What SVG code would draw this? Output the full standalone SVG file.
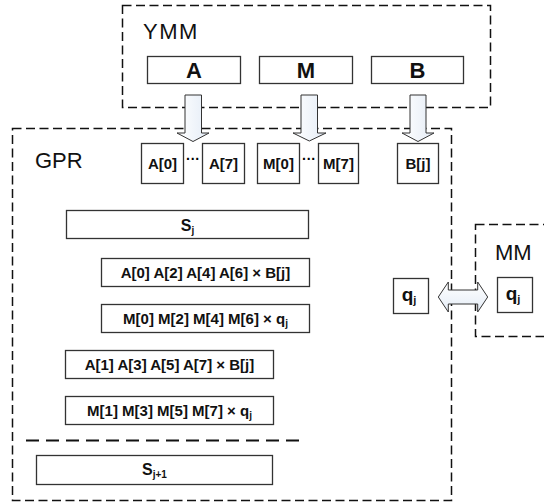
<svg xmlns="http://www.w3.org/2000/svg" width="544" height="503" viewBox="0 0 544 503">
<defs>
<linearGradient id="ag" x1="0" y1="0" x2="1" y2="0">
<stop offset="0" stop-color="#ffffff"/>
<stop offset="1" stop-color="#e4ecf6"/>
</linearGradient>
<linearGradient id="agv" x1="0" y1="0" x2="0" y2="1">
<stop offset="0" stop-color="#ffffff"/>
<stop offset="1" stop-color="#e4ecf6"/>
</linearGradient>
</defs>
<style>
.cont{fill:none;stroke:#111;stroke-width:1.5;stroke-dasharray:9 4.5}
.box{fill:#fff;stroke:#333;stroke-width:1.3}
.t{font-family:"Liberation Sans",Arial,sans-serif;font-weight:bold;fill:#111;text-anchor:middle}
.big{font-family:"Liberation Sans",Arial,sans-serif;font-size:22px;fill:#111}
.lbl{font-size:15px}
.sub{font-size:10px}
.dots{font-family:"Liberation Sans",Arial,sans-serif;font-size:14px;font-weight:bold;fill:#000;text-anchor:middle}
.arr{fill:url(#ag);stroke:#333;stroke-width:1}
.arrv{fill:url(#agv);stroke:#333;stroke-width:1}
</style>
<rect width="544" height="503" fill="#fff"/>

<g id="ymm">
<rect class="cont" x="122.5" y="5.5" width="368" height="102"/>
<text class="big" x="143" y="39" letter-spacing="1.5">YMM</text>
</g>
<g id="gpr">
<rect class="cont" x="12.5" y="128.5" width="439" height="372"/>
<text class="big" x="35" y="168">GPR</text>
<line x1="26" y1="440.5" x2="304" y2="440.5" stroke="#111" stroke-width="2" stroke-dasharray="13 7"/>
</g>
<g id="mm">
<rect class="cont" x="475.5" y="224.5" width="100" height="112"/>
<text class="big" x="495" y="260">MM</text>
</g>

<g id="ymm-a"><rect class="box" x="147.5" y="56.5" width="93" height="27"/><text class="t" x="194" y="77.5" font-size="22">A</text></g>
<g id="ymm-m"><rect class="box" x="259.5" y="56.5" width="93" height="27"/><text class="t" x="306" y="77.5" font-size="22">M</text></g>
<g id="ymm-b"><rect class="box" x="371.5" y="56.5" width="92" height="27"/><text class="t" x="417.5" y="77.5" font-size="22">B</text></g>

<g id="a0"><rect class="box" x="141.5" y="143.5" width="42" height="40"/><text class="t lbl" x="162.5" y="169">A[0]</text></g>
<text class="dots" x="193" y="164">···</text>
<g id="a7"><rect class="box" x="202.5" y="143.5" width="42" height="40"/><text class="t lbl" x="223.5" y="169">A[7]</text></g>
<g id="m0"><rect class="box" x="257.5" y="143.5" width="42" height="40"/><text class="t lbl" x="278.5" y="169">M[0]</text></g>
<text class="dots" x="309" y="164">···</text>
<g id="m7"><rect class="box" x="318.5" y="143.5" width="40" height="40"/><text class="t lbl" x="338.5" y="169">M[7]</text></g>
<g id="bj"><rect class="box" x="397.5" y="143.5" width="41" height="40"/><text class="t lbl" x="418" y="169">B[j]</text></g>

<g id="sj"><rect class="box" x="66.5" y="210.5" width="242" height="28"/><text class="t" x="187.5" y="231" font-size="16">S<tspan class="sub" dy="3">j</tspan></text></g>
<g id="row1"><rect class="box" x="101.5" y="258.5" width="208" height="28"/><text class="t lbl" x="205.5" y="278">A[0] A[2] A[4] A[6] × B[j]</text></g>
<g id="row2"><rect class="box" x="101.5" y="304.5" width="208" height="28"/><text class="t lbl" x="205.5" y="324">M[0] M[2] M[4] M[6] × q<tspan class="sub" dy="3">j</tspan></text></g>
<g id="row3"><rect class="box" x="65.5" y="350.5" width="208" height="28"/><text class="t lbl" x="169.5" y="370">A[1] A[3] A[5] A[7] × B[j]</text></g>
<g id="row4"><rect class="box" x="65.5" y="396.5" width="208" height="28"/><text class="t lbl" x="169.5" y="416">M[1] M[3] M[5] M[7] × q<tspan class="sub" dy="3">j</tspan></text></g>
<g id="sj1"><rect class="box" x="36.5" y="455.5" width="236" height="29"/><text class="t" x="154.5" y="475" font-size="16">S<tspan class="sub" dy="3">j+1</tspan></text></g>

<g id="qj-gpr"><rect class="box" x="393.5" y="278.5" width="35" height="35"/><text class="t" x="409" y="301" font-size="19">q<tspan font-size="11" dy="3">j</tspan></text></g>
<g id="qj-mm"><rect class="box" x="497.5" y="277.5" width="35" height="35"/><text class="t" x="513" y="300" font-size="19">q<tspan font-size="11" dy="3">j</tspan></text></g>

<g id="connectors">
<polygon class="arr" points="185,95 201.5,95 201.5,133 209,133 193,141.5 177,133 185,133"/>
<polygon class="arr" points="301,95 317.5,95 317.5,133 326,133 309.3,141 293,133 301,133"/>
<polygon class="arr" points="410,95 426,95 426,133 434,133 418,141.5 402,133 410,133"/>
<polygon class="arrv" points="438.3,297 448.3,282 448.3,290 477.7,290 477.7,282 487.7,297 477.7,312 477.7,304 448.3,304 448.3,312"/>
</g>
</svg>
